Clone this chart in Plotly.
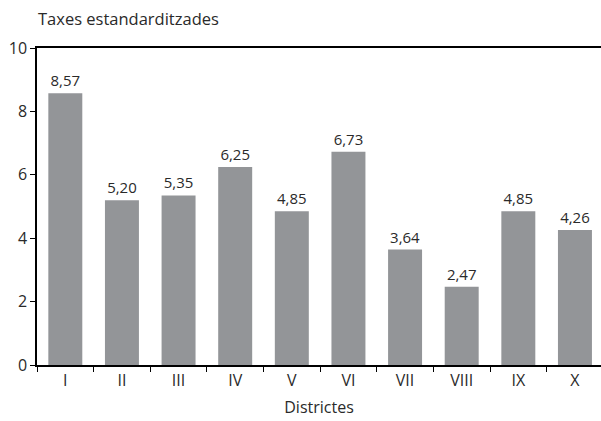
import plotly.graph_objects as go

# Districts and their standardised rates
districtes = ["I", "II", "III", "IV", "V", "VI", "VII", "VIII", "IX", "X"]
taxes = [8.57, 5.20, 5.35, 6.25, 4.85, 6.73, 3.64, 2.47, 4.85, 4.26]

FONT = "Open Sans"
TXT = "#2a2a2a"

fig = go.Figure(
    go.Bar(
        x=districtes,
        y=taxes,
        marker=dict(color="#939598", line=dict(width=0)),
        width=0.6,
        texttemplate="%{y:.2f}",
        textposition="outside",
        textfont=dict(family=FONT, size=15, color=TXT),
        cliponaxis=False,
        hoverinfo="skip",
    )
)

fig.update_layout(
    width=601,
    height=421,
    margin=dict(l=37, r=0, t=48, b=56),
    paper_bgcolor="white",
    plot_bgcolor="white",
    separators=",.",
    showlegend=False,
    font=dict(family=FONT, color=TXT),
    xaxis=dict(
        type="category",
        range=[-0.5, 9.46],
        showline=True,
        linecolor="black",
        linewidth=1.5,
        mirror=True,
        ticks="outside",
        tickson="boundaries",
        ticklen=5,
        tickcolor="black",
        tickfont=dict(family=FONT, size=16, color=TXT),
        showgrid=False,
        title=dict(text="Districtes", font=dict(family=FONT, size=16, color=TXT), standoff=12),
    ),
    yaxis=dict(
        range=[0, 10],
        tickvals=[0, 2, 4, 6, 8, 10],
        showline=True,
        linecolor="black",
        linewidth=1.5,
        ticks="outside",
        ticklen=5,
        tickcolor="black",
        tickfont=dict(family=FONT, size=16, color=TXT),
        showgrid=False,
        zeroline=False,
    ),
    annotations=[
        dict(
            text="Taxes estandarditzades",
            xref="paper", yref="paper",
            x=0, y=1, xshift=-1, yshift=30,
            xanchor="left", yanchor="middle",
            showarrow=False,
            font=dict(family=FONT, size=16.5, color=TXT),
        )
    ],
)

fig.write_html("out.html")
